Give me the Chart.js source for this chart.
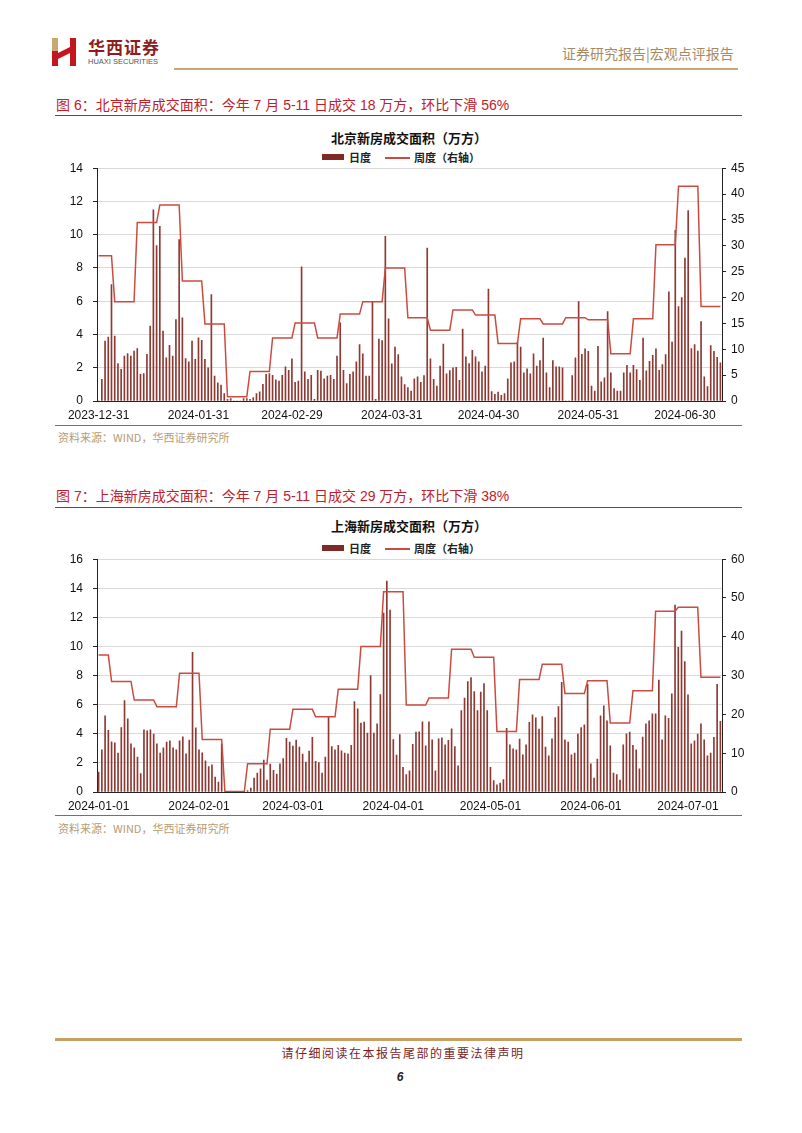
<!DOCTYPE html>
<html>
<head>
<meta charset="utf-8">
<script src="https://cdn.jsdelivr.net/npm/chart.js@4.4.1/dist/chart.umd.min.js"></script>
<style>
  body { margin: 0; background: #fff; }
  #page { position: relative; width: 802px; height: 1133px; overflow: hidden; background: #fff;
          font-family: "Liberation Sans", Arial, "Noto Sans CJK SC", sans-serif; }
  .abs { position: absolute; white-space: nowrap; }
  .cap { font-size: 14px; line-height: 16px; color: #c0202a; }
  .ctitle { left: 40px; width: 738px; text-align: center; font-size: 13px; line-height: 15px; font-weight: bold; color: #111;
            font-family: "Noto Sans CJK SC", sans-serif; }
  .legend { font-size: 11px; line-height: 12px; font-weight: bold; color: #222; font-family: "Noto Sans CJK SC", sans-serif; }
  .src { font-size: 11px; line-height: 12px; color: #b59c74; font-family: "Noto Sans CJK SC", "Liberation Sans", sans-serif; }
  .rule { position: absolute; }
</style>
</head>
<body>
<div id="page">
  <!-- header -->
  <svg class="abs" style="left:52px;top:38px" width="26" height="28" viewBox="0 0 26 28">
    <rect x="0" y="0" width="6" height="13" fill="#c9a770"/>
    <rect x="0" y="13" width="6" height="15" fill="#c4161c"/>
    <rect x="18" y="0" width="6" height="28" fill="#c4161c"/>
    <polygon points="6,15 18,9 18,15 6,21" fill="#c4161c"/>
  </svg>
  <div class="abs" style="left:88px;top:38px;font-size:17px;line-height:18px;font-weight:bold;color:#8f1d1d;letter-spacing:1px;font-family:'Noto Sans CJK SC',serif">华西证券</div>
  <div class="abs" style="left:88px;top:58px;font-size:7.5px;line-height:8px;color:#555">HUAXI SECURITIES</div>
  <div class="abs" style="left:562px;top:46px;font-size:14px;line-height:15px;color:#a88a62;font-family:'Noto Sans CJK SC',serif">证券研究报告|宏观点评报告</div>
  <div class="rule" style="left:174px;top:68px;width:564px;height:2px;background:#c9a770"></div>

  <!-- figure 6 -->
  <div class="abs cap" style="left:56px;top:97px">图 6：北京新房成交面积：今年 7 月 5-11 日成交 18 万方，环比下滑 56%</div>
  <div class="rule" style="left:55px;top:115px;width:687px;height:1px;background:#c0202a"></div>
  <div class="abs ctitle" style="top:130px">北京新房成交面积（万方）</div>
  <div class="abs" style="left:322px;top:154px;width:22px;height:6px;background:#7f2a24"></div>
  <div class="abs legend" style="left:349px;top:151px">日度</div>
  <div class="abs" style="left:385px;top:157px;width:25px;height:1.5px;background:#cc4b40"></div>
  <div class="abs legend" style="left:414px;top:151px">周度（右轴）</div>
  <canvas id="bjChart" class="abs" style="left:40px;top:151px" width="730" height="274"></canvas>
  <div class="rule" style="left:55px;top:425px;width:687px;height:1px;background:#c0504d"></div>
  <div class="abs src" style="left:58px;top:431px">资料来源：WIND，华西证券研究所</div>

  <!-- figure 7 -->
  <div class="abs cap" style="left:56px;top:488px">图 7：上海新房成交面积：今年 7 月 5-11 日成交 29 万方，环比下滑 38%</div>
  <div class="rule" style="left:55px;top:507px;width:687px;height:1px;background:#c0202a"></div>
  <div class="abs ctitle" style="top:518px">上海新房成交面积（万方）</div>
  <div class="abs" style="left:322px;top:545px;width:22px;height:6px;background:#7f2a24"></div>
  <div class="abs legend" style="left:349px;top:542px">日度</div>
  <div class="abs" style="left:385px;top:548px;width:25px;height:1.5px;background:#cc4b40"></div>
  <div class="abs legend" style="left:414px;top:542px">周度（右轴）</div>
  <canvas id="shChart" class="abs" style="left:40px;top:542px" width="730" height="274"></canvas>
  <div class="rule" style="left:55px;top:815px;width:687px;height:1px;background:#c0504d"></div>
  <div class="abs src" style="left:58px;top:822px">资料来源：WIND，华西证券研究所</div>

  <!-- footer -->
  <div class="rule" style="left:55px;top:1038px;width:687px;height:3px;background:#c9a063"></div>
  <div class="abs" style="left:0;width:806px;text-align:center;top:1046px;font-size:12px;line-height:13px;letter-spacing:1.5px;color:#7a1f1f;font-family:'Noto Sans CJK SC',serif">请仔细阅读在本报告尾部的重要法律声明</div>
  <div class="abs" style="left:0;width:800px;text-align:center;top:1071px;font-size:12px;line-height:13px;font-weight:bold;font-style:italic;color:#222">6</div>
</div>

<script>
// 北京: daily (万方, left axis) from 2023-12-31, weekly Fri-Thu totals (right axis)
const bjStart = '2023-12-31';
const bjDaily = [
  0, 1.3, 3.6, 3.85, 7.0, 3.9, 2.25, 1.9, 2.7, 2.85,
  2.7, 3.0, 3.15, 1.6, 1.65, 2.8, 4.5, 11.5, 9.35, 10.5,
  4.2, 2.6, 3.35, 2.7, 4.9, 9.7, 5.0, 2.55, 2.35, 3.6,
  2.5, 3.8, 3.65, 2.5, 2.0, 6.4, 1.5, 1.1, 0.95, 0.45,
  0.1, 0.15, 0, 0, 0, 0.15, 0.15, 0.1, 0.2, 0.45,
  0.55, 1.0, 1.6, 1.65, 1.55, 1.27, 1.2, 1.55, 2.05, 1.85,
  2.53, 1.13, 1.2, 8.07, 1.75, 1.3, 1.55, 0.1, 1.85, 1.8,
  1.33, 1.5, 1.55, 1.3, 2.7, 4.7, 1.85, 1.05, 1.6, 1.75,
  2.35, 3.4, 2.83, 1.5, 1.5, 5.94, 0.1, 3.73, 3.63, 9.9,
  4.94, 2.23, 3.25, 2.79, 1.45, 0.98, 0.8, 0.6, 1.33, 1.45,
  1.13, 1.53, 9.2, 2.53, 1.3, 0.9, 2.1, 3.43, 1.63, 1.83,
  2.0, 2.03, 1.24, 4.32, 2.65, 2.25, 3.05, 2.65, 2.35, 1.75,
  2.1, 6.73, 0.56, 0.4, 0.54, 0.34, 0.44, 1.33, 2.29, 2.35,
  3.53, 3.25, 1.7, 1.93, 1.63, 2.83, 2.1, 2.43, 3.78, 1.7,
  0.8, 2.43, 2.05, 2.05, 2.0, 0, 0, 1.53, 2.6, 5.98,
  2.8, 3.13, 2.99, 0.9, 0.6, 3.29, 1.16, 1.39, 5.38, 1.7,
  0.74, 0.6, 0.6, 1.7, 2.15, 1.7, 2.15, 1.89, 1.25, 3.78,
  1.81, 2.39, 2.75, 3.13, 1.85, 2.19, 2.79, 6.57, 3.55, 10.26,
  5.68, 6.22, 8.6, 11.45, 3.15, 3.39, 3.0, 4.78, 1.45, 0.86,
  3.33, 2.99, 2.63, 2.29
];
const bjWeekly = [28.1, 19.2, 34.5, 37.9, 23.2, 14.9, 0.83, 5.7, 12.2, 15.1, 12.2, 16.8, 19.2, 25.7,
                  16.1, 13.7, 17.6, 16.6, 11.1, 15.9, 14.9, 16.1, 15.7, 9.15, 15.9, 30.2, 41.5, 18.25];
const bjTicks = ['2023-12-31', '2024-01-31', '2024-02-29', '2024-03-31', '2024-04-30', '2024-05-31', '2024-06-30'];

// 上海
const shStart = '2024-01-01';
const shDaily = [
  1.37, 2.9, 5.23, 4.23, 3.45, 3.38, 2.67, 4.43, 6.29, 5.03,
  3.31, 3.04, 2.4, 1.26, 4.27, 4.2, 4.27, 3.98, 3.31, 2.67,
  3.04, 3.43, 3.52, 3.04, 2.9, 3.52, 3.79, 2.63, 3.57, 9.6,
  4.41, 2.9, 2.7, 2.15, 1.74, 1.87, 1.03, 0.69, 3.3, 0,
  0, 0, 0, 0, 0, 0, 0.1, 0.27, 0.96, 1.3,
  1.6, 2.2, 0.82, 1.92, 1.49, 1.23, 1.94, 2.3, 3.69, 3.43,
  3.15, 3.57, 3.08, 2.6, 2.06, 2.81, 3.75, 2.1, 2.03, 1.3,
  2.4, 5.14, 3.13, 2.9, 3.2, 2.83, 2.67, 2.63, 3.2, 6.22,
  5.71, 4.73, 4.8, 4.05, 8.0, 4.05, 4.69, 6.7, 12.3, 14.5,
  12.5, 3.6, 2.54, 3.95, 1.69, 1.19, 1.46, 3.27, 4.11, 4.14,
  4.82, 3.18, 4.82, 3.59, 1.46, 3.66, 3.73, 3.25, 3.55, 4.34,
  3.13, 1.8, 5.6, 6.45, 7.59, 7.86, 6.9, 5.6, 6.86, 7.45,
  5.6, 1.69, 0.78, 0.5, 0.62, 0.85, 4.37, 3.25, 2.97, 2.9,
  3.63, 2.56, 3.25, 4.78, 5.3, 5.1, 4.32, 5.19, 3.09, 2.49,
  3.66, 5.12, 5.87, 7.54, 3.59, 3.43, 2.56, 2.67, 3.98, 4.43,
  4.62, 7.4, 1.94, 0.96, 2.26, 5.23, 5.92, 4.89, 3.18, 1.3,
  1.19, 0.82, 3.25, 4.0, 4.11, 3.2, 2.9, 1.6, 3.77, 4.69,
  4.89, 5.37, 5.37, 7.7, 3.59, 5.23, 5.07, 6.74, 12.85, 9.94,
  11.06, 8.96, 6.67, 3.31, 3.52, 3.98, 4.69, 3.59, 2.49, 2.67,
  3.75, 7.4, 4.85
];
const shWeekly = [35.3, 28.5, 23.7, 22.0, 30.6, 13.5, 0.1, 7.3, 16.2, 21.3, 19.4, 26.5, 37.5, 51.6,
                  22.4, 24.2, 36.8, 34.7, 15.6, 29.0, 32.9, 25.4, 28.7, 17.8, 26.1, 46.6, 47.6, 29.6];
const shTicks = ['2024-01-01', '2024-02-01', '2024-03-01', '2024-04-01', '2024-05-01', '2024-06-01', '2024-07-01'];

const barColor = '#8e3a33';
const lineColor = '#cc4b40';

// consecutive date labels, one per daily value
function dayLabels(start, count) {
  const out = [];
  const d = new Date(start + 'T00:00:00Z');
  for (let i = 0; i < count; i++) {
    out.push(d.toISOString().slice(0, 10));
    d.setUTCDate(d.getUTCDate() + 1);
  }
  return out;
}

// weekly total shown on every day of its Fri-Thu week
function weeklyByDay(labels, weekly) {
  let w = 0;
  return labels.map((s, i) => {
    if (i > 0 && new Date(s + 'T00:00:00Z').getUTCDay() === 5) w++;
    return weekly[w];
  });
}

function makeChart(id, start, daily, weekly, ticks, leftMax, leftStep, rightMax, rightStep) {
  const labels = dayLabels(start, daily.length);
  const tickFont = { family: '"Liberation Sans", Arial, sans-serif', size: 12 };
  return new Chart(document.getElementById(id), {
    type: 'bar',
    data: {
      labels: labels,
      datasets: [
        {
          type: 'line', label: '周度（右轴）', data: weeklyByDay(labels, weekly), yAxisID: 'y1',
          borderColor: lineColor, borderWidth: 1.5, pointRadius: 0, tension: 0, order: 0
        },
        {
          type: 'bar', label: '日度', data: daily, yAxisID: 'y',
          backgroundColor: barColor, barThickness: 1, order: 1
        }
      ]
    },
    options: {
      responsive: false,
      animation: false,
      layout: { padding: { top: 8, left: 0, right: 0, bottom: 0 } },
      plugins: { legend: { display: false }, title: { display: false }, tooltip: { enabled: false } },
      scales: {
        x: {
          offset: true,
          grid: { display: false, drawTicks: false },
          border: { color: '#222', width: 1 },
          ticks: {
            autoSkip: false, maxRotation: 0, padding: 7, color: '#111', font: tickFont,
            callback: function (v) {
              const s = this.getLabelForValue(v);
              return ticks.includes(s) ? s : null;
            }
          },
          afterFit: s => { s.height = 24; }
        },
        y: {
          position: 'left', min: 0, max: leftMax,
          grid: { color: '#d9d9d9', tickColor: '#222', tickLength: 4 },
          border: { color: '#222', width: 1 },
          ticks: { stepSize: leftStep, padding: 10, color: '#111', font: tickFont },
          afterFit: s => { s.width = 57; }
        },
        y1: {
          position: 'right', min: 0, max: rightMax,
          grid: { drawOnChartArea: false, tickColor: '#222', tickLength: 4 },
          border: { color: '#222', width: 1 },
          ticks: { stepSize: rightStep, padding: 5, color: '#111', font: tickFont },
          afterFit: s => { s.width = 48; }
        }
      }
    }
  });
}

makeChart('bjChart', bjStart, bjDaily, bjWeekly, bjTicks, 14, 2, 45, 5);
makeChart('shChart', shStart, shDaily, shWeekly, shTicks, 16, 2, 60, 10);
</script>
</body>
</html>
